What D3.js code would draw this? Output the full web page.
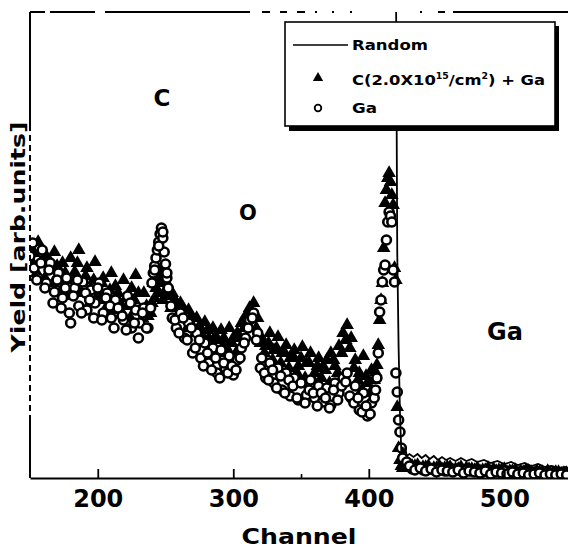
<!DOCTYPE html>
<html><head><meta charset="utf-8">
<script src="https://cdn.jsdelivr.net/npm/d3@7"></script>
<style>body{margin:0;background:#fff}</style>
</head><body>
<script>
// ---- data (yield in arbitrary units) ----
const channel = [150,153,156,159,162,165,168,171,174,177,180,183,186,189,192,195,198,201,204,207,210,213,216,219,222,225,228,231,234,237,
 240,241,242,243,244,245,246,247,248,249,250,251,252,
 255,258,261,264,267,270,273,276,279,282,285,288,291,294,297,300,303,306,309,312,315,318,321,324,327,330,333,336,339,342,345,348,351,354,357,360,363,366,369,372,375,378,381,384,387,390,393,396,399,402,
 404,405,406,407,408,409,410,411,412,413,414,415,416,417,418,419,420,421,422,423,424,425,
 428,432,436,440,444,448,452,456,460,464,468,472,476,480,484,488,492,496,500,504,508,512,516,520,524,528,532,536,540,544,548];
const cGaYield = [232,225,236,218,222,210,226,204,215,198,220,206,228,195,210,190,216,185,200,180,205,192,176,198,172,190,203,168,185,162,
 175,195,200,190,205,198,208,200,195,206,188,195,185,
 185,170,175,160,168,152,160,145,156,140,150,138,148,135,150,140,145,155,162,170,175,160,140,132,145,128,141,125,133,120,128,112,131,115,125,105,120,110,118,125,112,132,145,153,140,118,105,122,95,108,
 98,106,113,133,158,178,195,230,275,288,300,305,296,283,273,210,198,71,30,18,12,10,
 14,12,13,11,12,10,12,10,11,9,11,10,9,10,8,10,9,8,9,7,8,7,8,6,7,6,7,5,6,5,6];
const gaYield = [222,210,200,228,195,215,186,205,180,200,155,190,172,196,168,188,175,195,165,185,160,178,170,158,182,150,168,155,170,150,
 195,205,212,220,228,236,244,250,240,226,214,200,190,
 160,150,165,140,155,125,145,120,135,115,130,105,128,110,122,103,118,130,140,158,165,145,120,100,115,95,110,88,105,82,100,78,96,83,98,80,92,76,90,73,95,85,100,105,80,92,68,85,62,75,
 80,88,100,125,166,178,196,208,213,238,256,266,262,256,208,196,105,86,58,46,30,20,
 16,9,10,8,9,8,9,7,8,8,7,8,7,7,6,7,6,6,7,5,6,5,6,4,5,4,5,4,4,3,4];
// second pass of readings at intermediate channels
const channel2 = [152,155,158,161,164,167,170,173,176,179,182,185,188,191,194,197,200,203,206,209,212,215,218,221,224,227,230,233,236,239,
 242,245,248,251,254,257,260,263,266,269,272,275,278,281,284,287,290,293,296,299,302,305,308,311,314,317,320,323,326,329,
 332,335,338,341,344,347,350,353,356,359,362,365,368,371,374,377,380,383,386,389,392,395,398,401,
 430,434,438,442,446,450,454,458,462,466,470,474,478,482,486,490,494,498,502,506,510,514,518,522,526,530,534,538,542,546];
const cGaYield2 = [215,205,228,200,218,195,212,188,205,182,200,215,185,202,175,198,178,195,170,188,168,185,165,180,160,178,185,160,172,165,
 180,185,178,182,170,178,160,170,150,162,145,152,135,148,130,142,125,140,128,135,125,140,150,160,165,150,135,125,135,118,
 130,115,125,110,122,105,120,100,115,98,112,100,108,95,118,105,125,138,130,110,98,88,102,85,
 10,12,9,11,8,10,9,11,8,9,7,9,8,7,8,6,7,8,6,7,5,6,7,5,6,4,5,6,4,5];
const gaYield2 = [235,198,215,190,208,175,198,170,190,165,182,198,165,185,178,160,190,158,180,172,150,170,162,148,175,155,140,165,150,170,
 208,232,246,205,172,158,145,160,138,150,130,138,112,125,108,120,100,115,105,112,108,120,135,150,160,138,110,105,98,108,
 90,102,85,98,92,80,95,75,88,85,72,85,80,70,88,78,92,96,82,75,80,66,72,64,
 12,8,10,7,9,6,8,7,6,8,5,7,6,5,7,4,6,5,4,6,4,5,3,4,5,3,4,3,4,3];
const randomChannel = [420,421,422,423,424,425,426,427,428,430,433,436,439,442,445,448,451,454,457,460,464,468,472,476,480,485,490,495,500,505,510,515,520,525,530,535,540,545,548];
const randomYield = [520,225,131,65,26,31,24,30,22,24,21,24,20,23,19,22,18,21,18,20,17,20,17,19,16,18,15,17,14,16,13,15,12,14,11,12,10,11,9];
const xTicks = [200,300,400,500];
const xMinorTicks = [350];
const seriesNames = ["Random", "C(2.0X10", "15", "/cm", "2", ") + Ga", "Ga"];
const peakLabels = ["C", "O", "Ga"];

// ---- layout ----
const W = 568, H = 550;
const L = 30, R = 568, T = 12, B = 478;
const FONT = "DejaVu Sans";
const svg = d3.select("body").append("svg").attr("width", W).attr("height", H);
const x = d3.scaleLinear().domain([150, 547]).range([L, R]);
const y = d3.scaleLinear().domain([0, 466]).range([B, T]);

svg.append("defs").append("clipPath").attr("id", "clip")
  .append("rect").attr("x", L).attr("y", T).attr("width", R - L).attr("height", B - T);

const triPts = channel.map((c, i) => [c, cGaYield[i]]).concat(channel2.map((c, i) => [c, cGaYield2[i]]));
const cirPts = channel.map((c, i) => [c, gaYield[i]]).concat(channel2.map((c, i) => [c, gaYield2[i]]));

const plot = svg.append("g").attr("clip-path", "url(#clip)");
const tri = d3.symbol().type(d3.symbolTriangle).size(80);
plot.append("g").selectAll("path").data(triPts).join("path")
  .attr("d", tri).attr("transform", d => `translate(${x(d[0])},${y(d[1])})`).attr("fill", "#000");
plot.append("g").selectAll("circle").data(cirPts).join("circle")
  .attr("cx", d => x(d[0])).attr("cy", d => y(d[1])).attr("r", 4.5)
  .attr("fill", "#fff").attr("stroke", "#000").attr("stroke-width", 2.6);
const line = d3.line().x(d => x(d[0])).y(d => y(d[1]));
plot.append("path").datum(randomChannel.map((c, i) => [c, randomYield[i]]))
  .attr("d", line).attr("fill", "none").attr("stroke", "#000").attr("stroke-width", 1.8);

// ---- axes ----
const gx = svg.append("g").attr("transform", `translate(0,${B})`)
  .call(d3.axisBottom(x).tickValues(xTicks).tickSize(-9).tickSizeOuter(0).tickPadding(12).tickFormat(d3.format("d")));
gx.select(".domain").attr("stroke-width", 2.2);
gx.selectAll(".tick line").attr("stroke-width", 1.8);
gx.selectAll(".tick text").attr("font-family", FONT).attr("font-weight", "bold").attr("font-size", 24).attr("fill", "#000");
const gm = svg.append("g").attr("transform", `translate(0,${B})`)
  .call(d3.axisBottom(x).tickValues(xMinorTicks).tickSize(-4).tickSizeOuter(0).tickFormat(""));
gm.select(".domain").remove();
gm.selectAll(".tick line").attr("stroke-width", 1.6);

// left frame (scanned, partly broken)
const frame = svg.append("g").attr("stroke", "#000").attr("stroke-width", 2);
frame.append("line").attr("x1", L).attr("x2", L).attr("y1", T).attr("y2", 125);
frame.append("line").attr("x1", L).attr("x2", L).attr("y1", 125).attr("y2", 418).attr("stroke-dasharray", "6,4");
frame.append("line").attr("x1", L).attr("x2", L).attr("y1", 418).attr("y2", B);
// top frame (dashed in scan)
frame.append("line").attr("x1", L).attr("x2", R).attr("y1", T).attr("y2", T)
  .attr("stroke-dasharray", "15,5,45,10,145,12,8,10,7,10,8,10,2,15,2,16,2,68,2,16,7,8,120");

// axis titles
svg.append("text").attr("x", 299).attr("y", 544).attr("text-anchor", "middle")
  .attr("font-family", FONT).attr("font-weight", "bold").attr("font-size", 22)
  .attr("textLength", 115).attr("lengthAdjust", "spacingAndGlyphs").text("Channel");
svg.append("text").attr("transform", "translate(25,237) rotate(-90)").attr("text-anchor", "middle")
  .attr("font-family", FONT).attr("font-weight", "bold").attr("font-size", 20)
  .attr("textLength", 231).attr("lengthAdjust", "spacingAndGlyphs").text("Yield [arb.units]");

// peak labels
const pl = svg.append("g").attr("font-family", FONT).attr("font-weight", "bold").attr("text-anchor", "middle");
pl.append("text").attr("x", 162).attr("y", 106).attr("font-size", 23).text(peakLabels[0]);
pl.append("text").attr("x", 248).attr("y", 220).attr("font-size", 21).text(peakLabels[1]);
pl.append("text").attr("x", 505).attr("y", 340).attr("font-size", 24).text(peakLabels[2]);

// ---- legend ----
const lg = svg.append("g");
lg.append("rect").attr("x", 289).attr("y", 26).attr("width", 270).attr("height", 105).attr("fill", "#000");
lg.append("rect").attr("x", 285).attr("y", 22).attr("width", 270).attr("height", 104)
  .attr("fill", "#fff").attr("stroke", "#000").attr("stroke-width", 1.6);
lg.append("line").attr("x1", 293).attr("x2", 348).attr("y1", 45).attr("y2", 45).attr("stroke", "#000").attr("stroke-width", 1.6);
lg.append("path").attr("d", d3.symbol().type(d3.symbolTriangle).size(46)).attr("transform", "translate(318,78)").attr("fill", "#000");
lg.append("circle").attr("cx", 318).attr("cy", 108).attr("r", 3.3).attr("fill", "#fff").attr("stroke", "#000").attr("stroke-width", 1.8);
const lt = lg.append("g").attr("font-family", FONT).attr("font-weight", "bold").attr("font-size", 14);
lt.append("text").attr("x", 352).attr("y", 50).attr("textLength", 76).attr("lengthAdjust", "spacingAndGlyphs").text(seriesNames[0]);
const t2 = lt.append("text").attr("x", 352).attr("y", 85).attr("textLength", 193).attr("lengthAdjust", "spacingAndGlyphs");
t2.append("tspan").text(seriesNames[1]);
t2.append("tspan").attr("font-size", 8).attr("dy", -6).text(seriesNames[2]);
t2.append("tspan").attr("dy", 6).text(seriesNames[3]);
t2.append("tspan").attr("font-size", 8).attr("dy", -6).text(seriesNames[4]);
t2.append("tspan").attr("dy", 6).text(seriesNames[5]);
lt.append("text").attr("x", 352).attr("y", 113).attr("textLength", 25).attr("lengthAdjust", "spacingAndGlyphs").text(seriesNames[6]);
</script>
</body></html>
